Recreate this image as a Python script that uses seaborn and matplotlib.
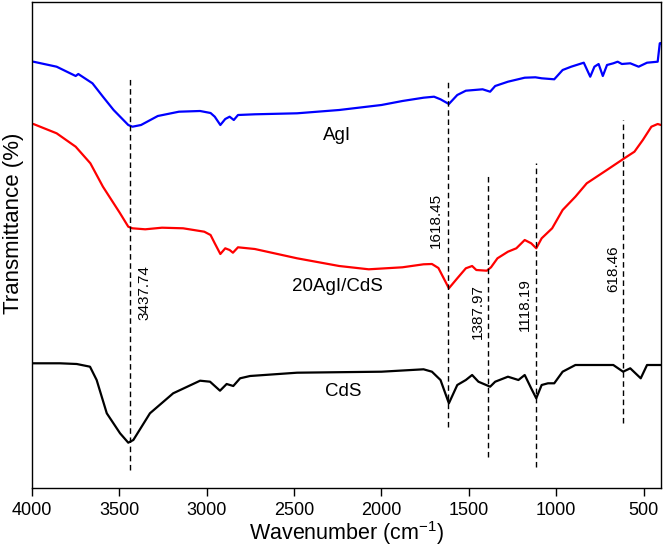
import matplotlib
matplotlib.use("Agg")
import matplotlib.pyplot as plt
import seaborn as sns
import pandas as pd

# ---------------- data ----------------
agi_wn = [3992, 3859, 3750, 3735, 3654, 3594, 3533, 3449, 3425, 3376,
          3280, 3159, 3038, 2978, 2954, 2922, 2894, 2869, 2845, 2821,
          2725, 2483, 2242, 2000, 1880, 1759, 1699, 1662, 1614, 1566,
          1517, 1469, 1421, 1378, 1349, 1276, 1180, 1119, 1083, 1011,
          963, 914, 842, 805, 781, 757, 733, 709, 673, 648,
          624, 576, 528, 480, 419, 407, 400]
agi_t = [426.3, 421.3, 412, 414, 404.7, 391.3, 378, 363, 361.3, 363,
         372, 376.3, 377, 375, 371.3, 363, 369, 371.3, 368, 373,
         373.7, 374.7, 378, 383, 387, 390.3, 391.3, 388.7, 384, 393,
         397.3, 398, 398.7, 396.3, 402, 406.3, 410.3, 410.7, 409.7, 408.7,
         418, 421.3, 425.3, 411.3, 421.3, 424, 412, 423, 424.7, 426.3,
         424, 424.7, 421.3, 425.3, 426.3, 444.7, 445]

comp_wn = [3992, 3859, 3750, 3666, 3594, 3545, 3497, 3449, 3425, 3352,
           3256, 3135, 3014, 2978, 2954, 2922, 2894, 2869, 2850, 2821,
           2725, 2483, 2242, 2073, 1880, 1759, 1711, 1674, 1614, 1566,
           1517, 1481, 1457, 1397, 1373, 1336, 1276, 1228, 1180, 1143,
           1114, 1083, 1023, 963, 890, 825, 710, 610, 552, 504,
           455, 419, 400]
comp_t = [364, 354.7, 341.3, 324.7, 301.3, 288, 275, 261.3, 259.7, 258.7,
          260.3, 259.7, 256.3, 253, 244.7, 234, 239.7, 238, 235.3, 240.7,
          239, 229.7, 222, 218.7, 220.7, 223.7, 224, 220, 199.7, 209.7,
          219.7, 222, 218, 217.3, 220.7, 229.7, 236.3, 239.7, 248, 244.7,
          239.7, 249.7, 259.7, 278, 291.3, 304.7, 318, 329.7, 336.3, 348,
          361.3, 364, 363]

cds_wn = [3998, 3840, 3744, 3668, 3630, 3572, 3496, 3449, 3420, 3325,
          3192, 3038, 2981, 2924, 2886, 2848, 2809, 2752, 2483, 2000,
          1759, 1711, 1662, 1614, 1566, 1517, 1481, 1445, 1378, 1349,
          1276, 1216, 1180, 1143, 1114, 1083, 1047, 1011, 963, 890,
          673, 617, 576, 516, 480, 400]
cds_t = [124.7, 124.7, 124, 121.3, 108, 74.7, 54.7, 45.3, 48, 74.7,
         94.7, 107.3, 106.3, 97.3, 104, 102, 109.7, 112, 115.3, 116.3,
         118.7, 116.3, 108, 84.7, 103, 108, 113, 106.3, 101.3, 106.3,
         111.3, 108, 113, 99.7, 89.7, 103, 104.7, 104.7, 116.3, 123,
         123, 116.3, 119.7, 109.7, 123, 123]

peak_wn = [3437.74, 1618.45, 1387.97, 1118.19, 618.46]
peak_labels = ["3437.74", "1618.45", "1387.97", "1118.19", "618.46"]
peak_top = [409.7, 409, 313, 324.7, 368]
peak_bottom = [18, 61.3, 31.3, 20.7, 65.3]
peak_label_x = [3357, 1688, 1447, 1178, 673]
peak_label_y = [195.5, 268, 176, 183, 219]

series_names = ["AgI", "20AgI/CdS", "CdS"]
series_colors = ["#0000ff", "#ff0000", "#000000"]
name_x = [2254, 2254, 2218]
name_y = [353, 201.3, 96.3]

xticks = [4000, 3500, 3000, 2500, 2000, 1500, 1000, 500]

# ---------------- plotting ----------------
sns.set_style("ticks")
plt.rcParams["font.family"] = ["Liberation Sans", "DejaVu Sans"]
plt.rcParams["mathtext.default"] = "regular"
plt.rcParams["text.color"] = "black"
plt.rcParams["axes.labelcolor"] = "black"
plt.rcParams["xtick.color"] = "black"
plt.rcParams["ytick.color"] = "black"

fig = plt.figure(figsize=(6.64, 5.5), dpi=100)
ax = fig.add_axes([32 / 664, 1 - 488 / 550, 629 / 664, 486 / 550])

frames = [
    pd.DataFrame({"wn": agi_wn, "T": agi_t}),
    pd.DataFrame({"wn": comp_wn, "T": comp_t}),
    pd.DataFrame({"wn": cds_wn, "T": cds_t}),
]
for df, col in zip(frames, series_colors):
    sns.lineplot(data=df, x="wn", y="T", color=col, lw=1.6, ax=ax,
                 estimator=None, sort=False)

for wn, lab, top, bot, lx, ly in zip(peak_wn, peak_labels, peak_top,
                                     peak_bottom, peak_label_x, peak_label_y):
    ax.plot([wn, wn], [bot, top], color="black", lw=1.0,
            linestyle=(0, (4, 2.6)))
    ax.text(lx, ly, lab, rotation=90, ha="center", va="center",
            fontsize=11, color="black")

for nm, nx, ny in zip(series_names, name_x, name_y):
    ax.text(nx, ny, nm, ha="center", va="center", fontsize=13.5,
            color="black")

ax.set_xlim(4000, 400)
ax.set_ylim(0, 486)
ax.set_xticks(xticks)
ax.set_xticklabels([str(v) for v in xticks])
ax.set_yticks([])
ax.tick_params(axis="x", direction="out", length=6, width=1.0,
               labelsize=13, pad=4, colors="black")
for sp in ax.spines.values():
    sp.set_linewidth(1.0)
    sp.set_color("black")

ax.set_xlabel("Wavenumber (cm$^{-1}$)", fontsize=15.5, labelpad=0)
ax.set_ylabel("Transmittance (%)", fontsize=16)
ax.yaxis.set_label_coords(-0.012, 0.544)

fig.savefig("out.png", dpi=100)
